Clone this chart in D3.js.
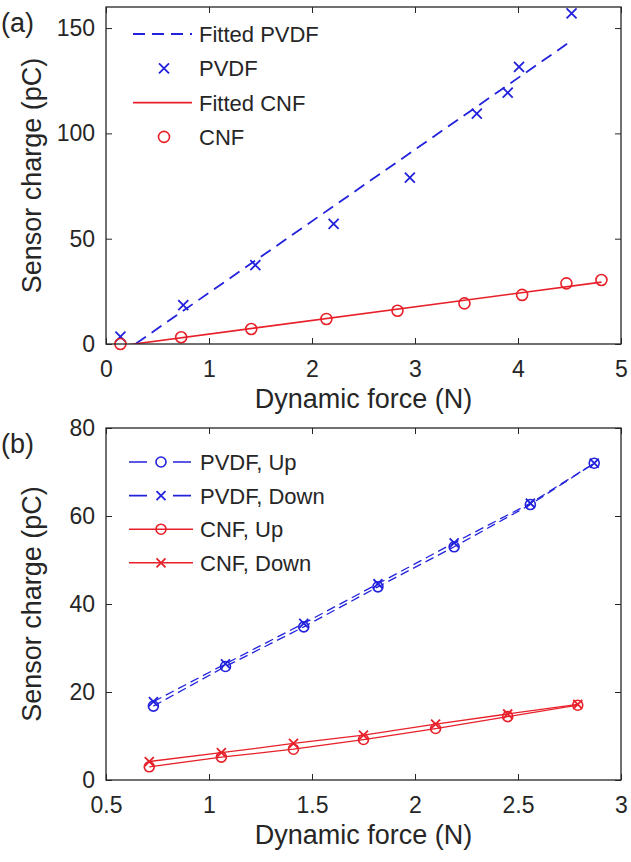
<!DOCTYPE html>
<html><head><meta charset="utf-8">
<script src="https://cdn.jsdelivr.net/npm/d3@7"></script>
<style>
body{margin:0;background:#fff}
text{font-family:"Liberation Sans",Arial,Helvetica,sans-serif;fill:#262626}
</style>
</head><body>
<svg id="chart" width="631" height="862"></svg>
<script>
// ---------- Panel (a) data ----------
const aPvdfForce  = [0.14, 0.75, 1.45, 2.21, 2.95, 3.60, 3.90, 4.01, 4.52];
const aPvdfCharge = [3.5, 18.5, 37.5, 57, 79, 109.4, 119.3, 131.6, 157];
const aCnfForce   = [0.14, 0.73, 1.41, 2.14, 2.83, 3.48, 4.04, 4.47, 4.81];
const aCnfCharge  = [0, 3.2, 7.1, 11.9, 15.8, 19.3, 23.3, 28.8, 30.4];
const aXTicks = [0, 1, 2, 3, 4, 5];
const aYTicks = [0, 50, 100, 150];
const aLegend = ["Fitted PVDF", "PVDF", "Fitted CNF", "CNF"];

// ---------- Panel (b) data ----------
const bPvdfForce = [0.73, 1.08, 1.46, 1.82, 2.19, 2.56, 2.87];
const bPvdfUp    = [16.8, 25.8, 34.8, 43.9, 53.0, 62.6, 72.0];
const bPvdfDown  = [17.8, 26.4, 35.6, 44.6, 53.9, 62.9, 72.0];
const bCnfForce  = [0.71, 1.06, 1.41, 1.75, 2.10, 2.45, 2.79];
const bCnfUp     = [3.0, 5.2, 7.0, 9.2, 11.7, 14.4, 17.0];
const bCnfDown   = [4.2, 6.2, 8.3, 10.2, 12.7, 15.0, 17.2];
const bXTicks = [0.5, 1, 1.5, 2, 2.5, 3];
const bYTicks = [0, 20, 40, 60, 80];
const bLegend = ["PVDF, Up", "PVDF, Down", "CNF, Up", "CNF, Down"];

const xLabel = "Dynamic force (N)";
const yLabel = "Sensor charge (pC)";

const BLUE = "#2222dd", RED = "#e8202a", AX = "#262626";
const svg = d3.select("#chart");

function linfit(xs, ys){
  const n = xs.length, mx = d3.mean(xs), my = d3.mean(ys);
  let sxy = 0, sxx = 0;
  for (let i=0;i<n;i++){ sxy += (xs[i]-mx)*(ys[i]-my); sxx += (xs[i]-mx)**2; }
  const s = sxy/sxx; return {s, b: my - s*mx};
}

function drawMarker(g, type, x, y, color, r){
  r = r || 5.5;
  if (type === "o"){
    g.append("circle").attr("cx",x).attr("cy",y).attr("r",r)
      .attr("fill","none").attr("stroke",color).attr("stroke-width",1.6);
  } else if (type === "x"){
    const d = r - 0.5;
    g.append("path").attr("d",`M${x-d},${y-d}L${x+d},${y+d}M${x-d},${y+d}L${x+d},${y-d}`)
      .attr("stroke",color).attr("stroke-width",1.8).attr("fill","none");
  }
}

function axesFrame(id, x, y, xt, yt, xfmt){
  const g = svg.append("g");
  const [x0,x1] = x.range(), [y0,y1] = y.range();
  g.append("g").attr("transform",`translate(0,${y0})`)
    .call(d3.axisBottom(x).tickValues(xt).tickSize(-6).tickPadding(12).tickFormat(xfmt))
    .call(a=>{a.select(".domain").remove(); a.selectAll("line").attr("stroke",AX);
      a.selectAll("text").attr("font-size",23).attr("fill",AX).attr("dy","0.92em");});
  g.append("g").attr("transform",`translate(0,${y1})`)
    .call(d3.axisTop(x).tickValues(xt).tickSize(-6).tickFormat(""))
    .call(a=>{a.select(".domain").remove(); a.selectAll("line").attr("stroke",AX);});
  g.append("g").attr("transform",`translate(${x0},0)`)
    .call(d3.axisLeft(y).tickValues(yt).tickSize(-6).tickPadding(11).tickFormat(d3.format("d")))
    .call(a=>{a.select(".domain").remove(); a.selectAll("line").attr("stroke",AX);
      a.selectAll("text").attr("font-size",23).attr("fill",AX);});
  g.append("g").attr("transform",`translate(${x1},0)`)
    .call(d3.axisRight(y).tickValues(yt).tickSize(-6).tickFormat(""))
    .call(a=>{a.select(".domain").remove(); a.selectAll("line").attr("stroke",AX);});
  g.append("rect").attr("x",x0).attr("y",y1).attr("width",x1-x0).attr("height",y0-y1)
    .attr("fill","none").attr("stroke",AX).attr("stroke-width",1.3);
  g.append("text").attr("x",(x0+x1)/2).attr("y",y0+64).attr("text-anchor","middle")
    .attr("font-size",27).text(xLabel);
  g.append("text").attr("transform",`translate(41,${(y0+y1)/2}) rotate(-90)`)
    .attr("text-anchor","middle").attr("font-size",27).text(yLabel);
  g.append("text").attr("x",1).attr("y",y1+25).attr("font-size",27).text(id);
  return g;
}

// ================= Panel (a) =================
{
  const x = d3.scaleLinear().domain([0,5]).range([106,621]);
  const y = d3.scaleLinear().domain([0,160]).range([344,7]);
  const clip = svg.append("clipPath").attr("id","clipA");
  clip.append("rect").attr("x",106).attr("y",7).attr("width",515).attr("height",337);
  const plot = svg.append("g").attr("clip-path","url(#clipA)");

  const fp = linfit(aPvdfForce, aPvdfCharge);
  const fc = linfit(aCnfForce, aCnfCharge);
  const line = d3.line().x(d=>x(d[0])).y(d=>y(d[1]));
  const pvdfEnds = d3.extent(aPvdfForce), cnfEnds = d3.extent(aCnfForce);
  plot.append("path").attr("d", line(pvdfEnds.map(v=>[v, fp.s*v+fp.b])))
    .attr("stroke",BLUE).attr("stroke-width",1.8).attr("stroke-dasharray","12,7").attr("fill","none");
  plot.append("path").attr("d", line(cnfEnds.map(v=>[v, fc.s*v+fc.b])))
    .attr("stroke",RED).attr("stroke-width",1.6).attr("fill","none");

  const mg = svg.append("g");
  aPvdfForce.forEach((v,i)=>drawMarker(mg,"x",x(v),y(aPvdfCharge[i]),BLUE));
  aCnfForce.forEach((v,i)=>drawMarker(mg,"o",x(v),y(aCnfCharge[i]),RED));

  axesFrame("(a)", x, y, aXTicks, aYTicks, d3.format("d"));

  const lg = svg.append("g");
  const styles = [
    {c:BLUE, dash:"12,7", line:true, m:null},
    {c:BLUE, line:false, m:"x"},
    {c:RED, line:true, m:null},
    {c:RED, line:false, m:"o"}];
  aLegend.forEach((t,i)=>{
    const yy = 34 + i*34.3, st = styles[i];
    if (st.line) lg.append("line").attr("x1",133).attr("x2",192).attr("y1",yy).attr("y2",yy)
      .attr("stroke",st.c).attr("stroke-width",1.8).attr("stroke-dasharray",st.dash||null);
    if (st.m) drawMarker(lg, st.m, 164, yy, st.c);
    lg.append("text").attr("x",199).attr("y",yy).attr("dy","0.36em").attr("font-size",22).text(t);
  });
}

// ================= Panel (b) =================
{
  const x = d3.scaleLinear().domain([0.5,3]).range([106,621]);
  const y = d3.scaleLinear().domain([0,80]).range([780,428]);
  const line = d3.line().x(d=>x(d[0])).y(d=>y(d[1]));
  const series = [
    {xs:bPvdfForce, ys:bPvdfUp, c:BLUE, dash:"9,5", m:"o"},
    {xs:bPvdfForce, ys:bPvdfDown, c:BLUE, dash:"9,5", m:"x"},
    {xs:bCnfForce, ys:bCnfUp, c:RED, dash:null, m:"o"},
    {xs:bCnfForce, ys:bCnfDown, c:RED, dash:null, m:"x"}];
  const g = svg.append("g");
  series.forEach(s=>{
    g.append("path").attr("d", line(s.xs.map((v,i)=>[v,s.ys[i]])))
      .attr("stroke",s.c).attr("stroke-width",1.3).attr("stroke-dasharray",s.dash).attr("fill","none");
  });
  series.forEach(s=>{
    s.xs.forEach((v,i)=>drawMarker(g,s.m,x(v),y(s.ys[i]),s.c,5));
  });
  axesFrame("(b)", x, y, bXTicks, bYTicks, d=> d===Math.round(d) ? d3.format("d")(d) : d3.format(".1f")(d));

  const lg = svg.append("g");
  bLegend.forEach((t,i)=>{
    const yy = 462 + i*33.6, s = series[i];
    lg.append("line").attr("x1",129).attr("x2",193).attr("y1",yy).attr("y2",yy)
      .attr("stroke",s.c).attr("stroke-width",1.6).attr("stroke-dasharray", s.dash ? "18,26" : null);
    drawMarker(lg, s.m, 161, yy, s.c, 5);
    lg.append("text").attr("x",200).attr("y",yy).attr("dy","0.36em").attr("font-size",22).text(t);
  });
}
</script>
</body></html>
